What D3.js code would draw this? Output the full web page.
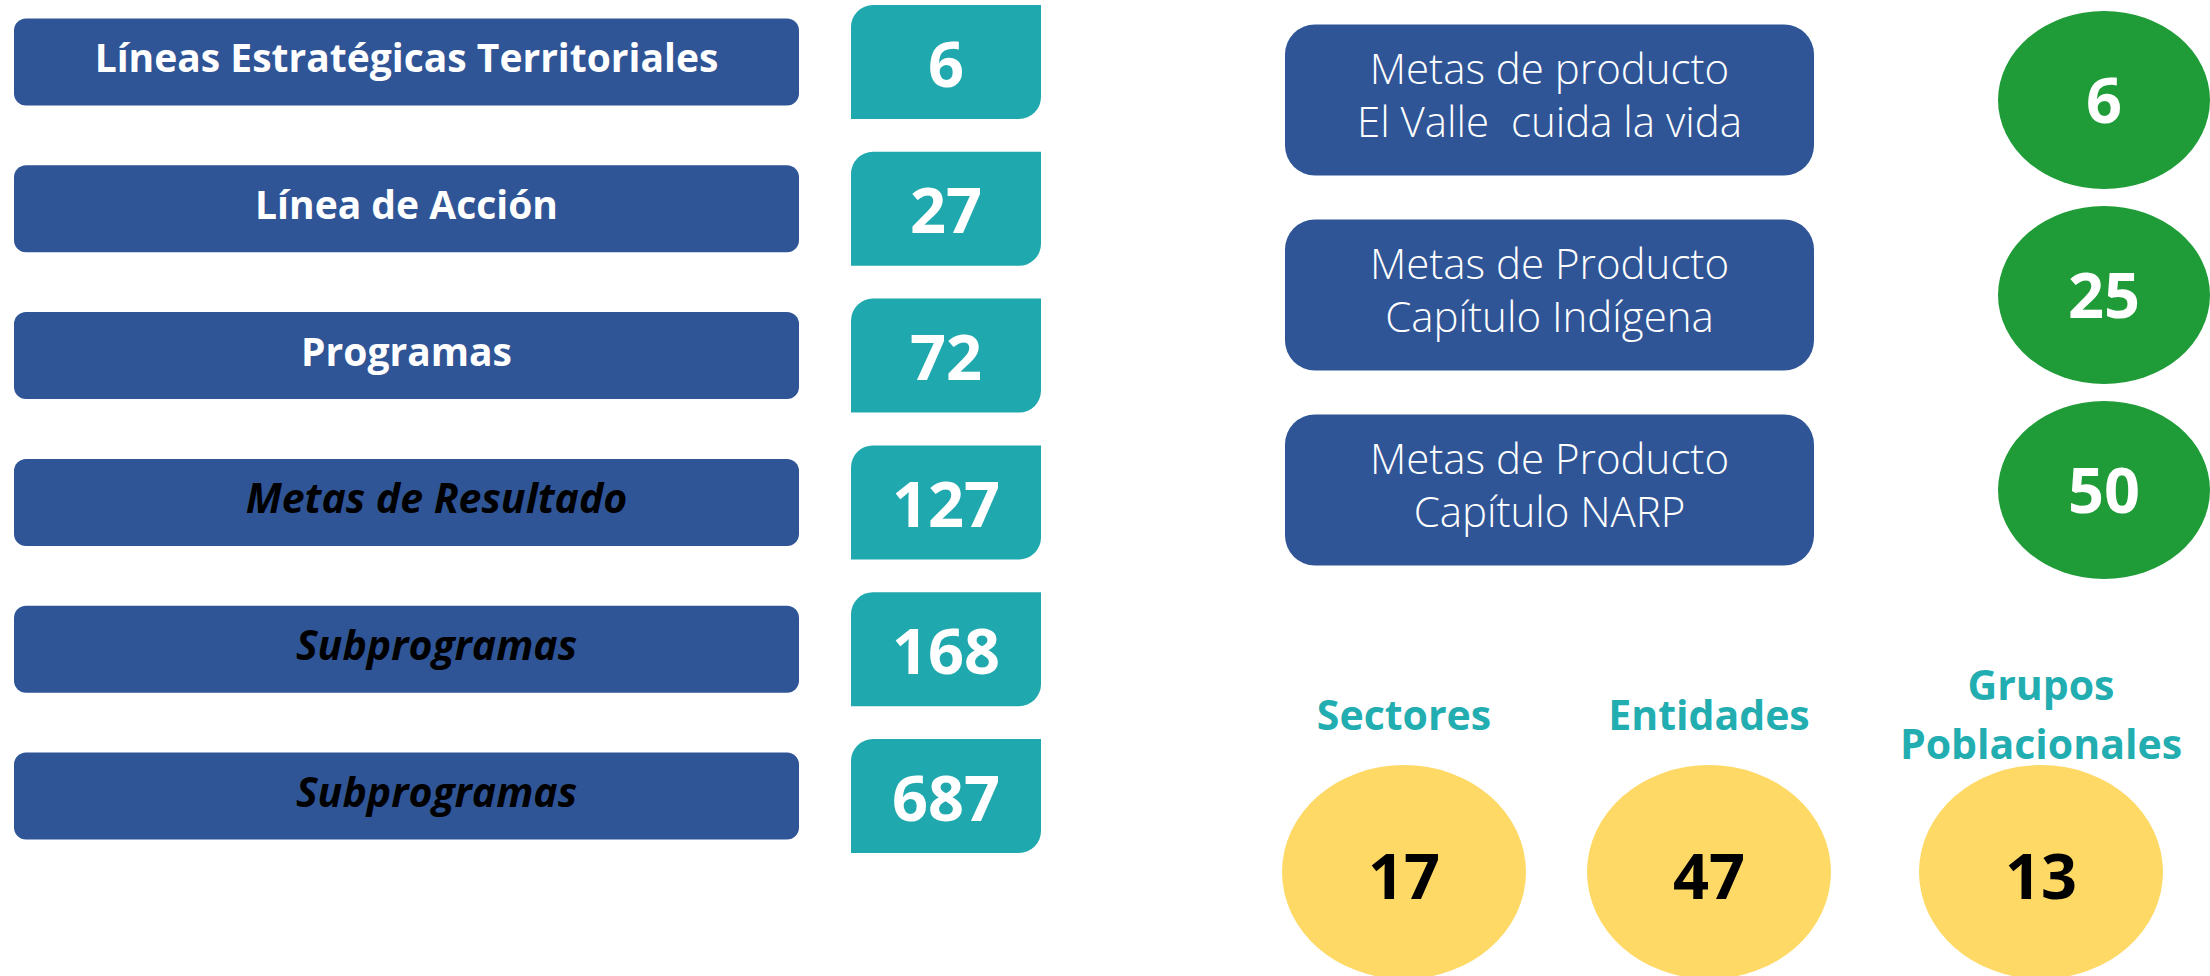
<!DOCTYPE html>
<html>
<head>
<meta charset="utf-8">
<script src="https://cdn.jsdelivr.net/npm/d3@7"></script>
<style>
  body { margin: 0; background: #fff; }
</style>
</head>
<body>
<div id="chart-area"></div>
<script>
// data
const leftLabels = ["Líneas Estratégicas Territoriales", "Línea de Acción", "Programas", "Metas de Resultado", "Subprogramas", "Subprogramas"]
const leftValues = [6, 27, 72, 127, 168, 687]
const leftItalic = [false, false, false, true, true, true]

const metaLabels = [["Metas de producto", "El Valle  cuida la vida"], ["Metas de Producto", "Capítulo Indígena"], ["Metas de Producto", "Capítulo NARP"]]
const metaValues = [6, 25, 50]

const countLabels = [["Sectores"], ["Entidades"], ["Grupos", "Poblacionales"]]
const countValues = [17, 47, 13]

// colours
const BLUE = "#2F5597"
const TEAL = "#1FA8AD"
const TEAL_TEXT = "#22ADB1"
const GREEN = "#1F9C37"
const YELLOW = "#FED966"
const FONT = "'Open Sans', 'DejaVu Sans', sans-serif"

const totalWidth = 2210
const totalHeight = 976

const svg = d3.select("#chart-area")
    .append("svg")
    .attr("width", totalWidth)
    .attr("height", totalHeight)

// rounded on top-left and bottom-right only
const diagRect = function(x, y, w, h, r) {
    const p = d3.path()
    p.moveTo(x + r, y)
    p.lineTo(x + w, y)
    p.lineTo(x + w, y + h - r)
    p.arcTo(x + w, y + h, x + w - r, y + h, r)
    p.lineTo(x, y + h)
    p.lineTo(x, y + r)
    p.arcTo(x, y, x + r, y, r)
    p.closePath()
    return p.toString()
}

// ---- left column
const rowY = d3.scalePoint()
    .domain(d3.range(leftLabels.length))
    .range([62, 796])

const BAR = {x0: 14, x1: 799, h: 87, r: 12}
const BOX = {x0: 851, x1: 1041, h: 114, r: 22}

const rows = svg.append("g").selectAll("g")
    .data(leftLabels.map((l, i) => ({label: l, value: leftValues[i], italic: leftItalic[i], i: i})))
    .join("g")
    .attr("transform", d => `translate(0, ${rowY(d.i)})`)

rows.append("rect")
    .attr("x", BAR.x0)
    .attr("y", -BAR.h / 2)
    .attr("width", BAR.x1 - BAR.x0)
    .attr("height", BAR.h)
    .attr("rx", BAR.r)
    .attr("fill", BLUE)

rows.append("text")
    .attr("x", d => (BAR.x0 + BAR.x1) / 2 + (d.italic ? 30 : 0))
    .attr("y", -4)
    .attr("dy", "0.36em")
    .attr("text-anchor", "middle")
    .attr("font-family", FONT)
    .attr("font-weight", "bold")
    .attr("font-style", d => d.italic ? "italic" : "normal")
    .attr("font-size", d => d.italic ? "41px" : "39px")
    .attr("fill", d => d.italic ? "#000" : "#fff")
    .text(d => d.label)

rows.append("path")
    .attr("d", diagRect(BOX.x0, -BOX.h / 2, BOX.x1 - BOX.x0, BOX.h, BOX.r))
    .attr("fill", TEAL)

rows.append("text")
    .attr("x", (BOX.x0 + BOX.x1) / 2)
    .attr("y", 2)
    .attr("dy", "0.36em")
    .attr("text-anchor", "middle")
    .attr("font-family", FONT)
    .attr("font-weight", "bold")
    .attr("font-size", "63px")
    .attr("fill", "#fff")
    .text(d => d.value)

// ---- right top: metas
const metaY = d3.scalePoint()
    .domain(d3.range(metaLabels.length))
    .range([100, 490])

const META = {x0: 1285, x1: 1814, h: 151, r: 30, lineH: 53}
const GREEN_E = {cx: 2104, rx: 106, ry: 89}

const metas = svg.append("g").selectAll("g")
    .data(metaLabels.map((l, i) => ({lines: l, value: metaValues[i], i: i})))
    .join("g")
    .attr("transform", d => `translate(0, ${metaY(d.i)})`)

metas.append("rect")
    .attr("x", META.x0)
    .attr("y", -META.h / 2)
    .attr("width", META.x1 - META.x0)
    .attr("height", META.h)
    .attr("rx", META.r)
    .attr("fill", BLUE)

metas.append("text")
    .attr("text-anchor", "middle")
    .attr("font-family", FONT)
    .attr("font-weight", 300)
    .attr("font-size", "42px")
    .attr("fill", "#fff")
    .selectAll("tspan")
    .data(d => d.lines.map((t, k) => ({t: t, k: k, n: d.lines.length})))
    .join("tspan")
    .attr("x", (META.x0 + META.x1) / 2)
    .attr("y", d => -5 + (d.k - (d.n - 1) / 2) * META.lineH)
    .attr("dy", "0.36em")
    .style("white-space", "pre")
    .text(d => d.t)

metas.append("ellipse")
    .attr("cx", GREEN_E.cx)
    .attr("cy", 0)
    .attr("rx", GREEN_E.rx)
    .attr("ry", GREEN_E.ry)
    .attr("fill", GREEN)

metas.append("text")
    .attr("x", GREEN_E.cx)
    .attr("y", 0)
    .attr("dy", "0.36em")
    .attr("text-anchor", "middle")
    .attr("font-family", FONT)
    .attr("font-weight", "bold")
    .attr("font-size", "63px")
    .attr("fill", "#fff")
    .text(d => d.value)

// ---- right bottom: counts
const countX = d3.scaleLinear()
    .domain([0, 1, 2])
    .range([1404, 1709, 2041])

const YEL = {cy: 872, rx: 122, ry: 107, labelY: 715, lineH: 59}

const counts = svg.append("g").selectAll("g")
    .data(countLabels.map((l, i) => ({lines: l, value: countValues[i], i: i})))
    .join("g")
    .attr("transform", d => `translate(${countX(d.i)}, 0)`)

counts.append("ellipse")
    .attr("cx", 0)
    .attr("cy", YEL.cy)
    .attr("rx", YEL.rx)
    .attr("ry", YEL.ry)
    .attr("fill", YELLOW)

counts.append("text")
    .attr("x", 0)
    .attr("y", YEL.cy + 4)
    .attr("dy", "0.36em")
    .attr("text-anchor", "middle")
    .attr("font-family", FONT)
    .attr("font-weight", "bold")
    .attr("font-size", "63px")
    .attr("fill", "#000")
    .text(d => d.value)

counts.append("text")
    .attr("text-anchor", "middle")
    .attr("font-family", FONT)
    .attr("font-weight", "bold")
    .attr("font-size", "41px")
    .attr("fill", TEAL_TEXT)
    .selectAll("tspan")
    .data(d => d.lines.map((t, k) => ({t: t, k: k, n: d.lines.length})))
    .join("tspan")
    .attr("x", 0)
    .attr("y", d => YEL.labelY + (d.k - (d.n - 1) / 2) * YEL.lineH)
    .attr("dy", "0.36em")
    .text(d => d.t)
</script>
</body>
</html>
